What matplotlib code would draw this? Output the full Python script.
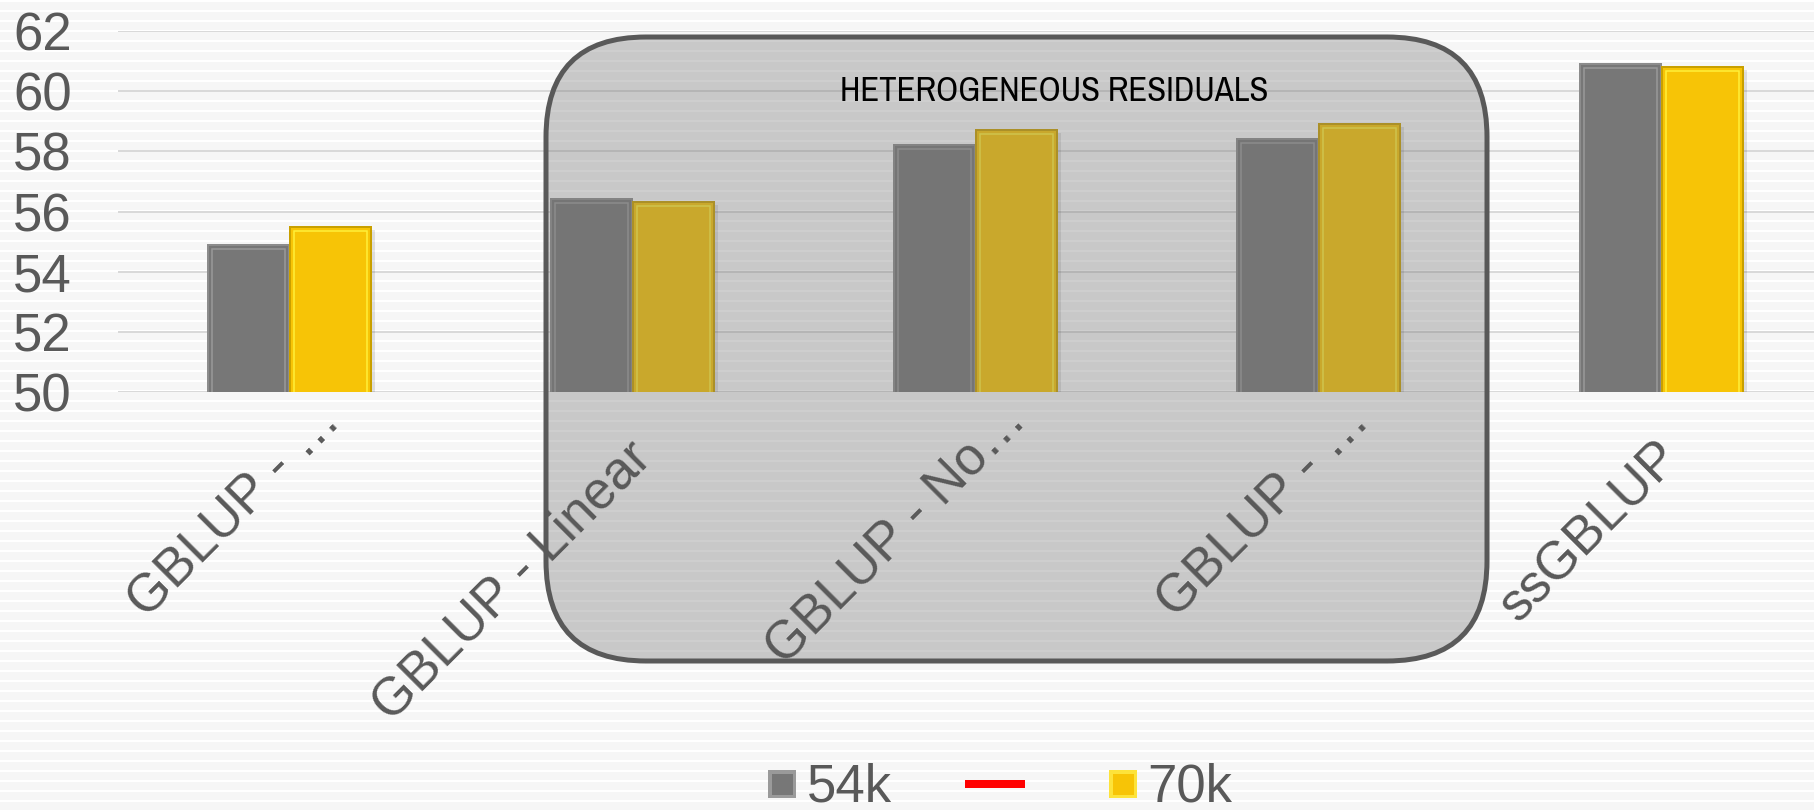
import numpy as np
import matplotlib
matplotlib.use("Agg")
import matplotlib.pyplot as plt
import matplotlib.transforms as mtransforms
from matplotlib import font_manager
from matplotlib.patches import FancyBboxPatch
from matplotlib.lines import Line2D
from matplotlib.legend_handler import HandlerTuple

# ---- data -----------------------------------------------------------------
models = ["GBLUP - …", "GBLUP - Linear", "GBLUP - No…", "GBLUP - …", "ssGBLUP"]
acc_54k = [54.9, 56.4, 58.2, 58.4, 60.9]
acc_70k = [55.5, 56.3, 58.7, 58.9, 60.8]
series_names = ["54k", "", "70k"]
y_ticks = [50, 52, 54, 56, 58, 60, 62]
box_title = "HETEROGENEOUS RESIDUALS"

# ---- style ----------------------------------------------------------------
W, H, DPI = 1814, 810, 100
TXT = "#595959"
GRAY, GRAY_EDGE, GRAY_BEVEL = "#777777", "#8c8c8c", "#9a9a9a"
YEL, YEL_EDGE, YEL_BEVEL = "#f7c406", "#c9a000", "#fff03a"
plt.rcParams["font.family"] = ["Liberation Sans", "DejaVu Sans"]


def px(v):
    """pixels -> points"""
    return v * 72.0 / DPI


def inch(v):
    """pixels -> inches"""
    return v / DPI


def narrow_font():
    """Find a regular-weight condensed sans face, if one is installed."""
    wanted = ("condensed", "semi-condensed", "extra-condensed")
    best = None
    for f in font_manager.fontManager.ttflist:
        w = f.weight if isinstance(f.weight, int) else {"normal": 400, "regular": 400}.get(str(f.weight), 0)
        if f.style != "normal" or w != 400:
            continue
        if str(f.stretch) in wanted or "Narrow" in f.name or "Condensed" in f.fname:
            rank = 0 if "Narrow" in f.name else 1 if "Noto" in f.name else 2
            if best is None or rank < best[0]:
                best = (rank, f.fname)
    return font_manager.FontProperties(fname=best[1]) if best else None


fig = plt.figure(figsize=(W / DPI, H / DPI), dpi=DPI)
fig.patch.set_facecolor("#f7f7f7")

# faint horizontal pinstripes behind everything
rows = np.arange(H)
stripes = np.where((rows % 10) < 2, 255.0, 246.0)[:, None]
bg = fig.add_axes([0, 0, 1, 1], zorder=-10)
bg.imshow(stripes, cmap="gray", vmin=0, vmax=255, aspect="auto",
          interpolation="nearest", extent=[0, 1, 0, 1])
bg.axis("off")

ax = fig.add_axes([118 / W, (H - 392) / H, 1715 / W, (392 - 31) / H])
ax.set_facecolor("none")

x = np.arange(len(models))
bw, off = 0.236, 0.119
shadow = ax.transData + mtransforms.ScaledTranslation(inch(4), -inch(3), fig.dpi_scale_trans)
inset = ax.transData + mtransforms.ScaledTranslation(0, -inch(4), fig.dpi_scale_trans)

for xs, vals, face, edge, bevel in [(x - off, acc_54k, GRAY, GRAY_EDGE, GRAY_BEVEL),
                                     (x + off, acc_70k, YEL, YEL_EDGE, YEL_BEVEL)]:
    ax.bar(xs, vals, bw, color="black", alpha=0.10, linewidth=0,
           transform=shadow, zorder=2)
    ax.bar(xs, vals, bw, color=face, edgecolor=edge, linewidth=px(2), zorder=3)
    ax.bar(xs, vals, bw - 8 / 343, fill=False, edgecolor=bevel,
           linewidth=px(1.5), transform=inset, zorder=4)

ax.set_xlim(-0.5, len(models) - 0.5)
ax.set_ylim(y_ticks[0], y_ticks[-1])
ax.set_yticks(y_ticks)
ax.set_xticks(x, [""] * len(models))
ax.tick_params(axis="both", length=0)
ax.tick_params(axis="y", pad=px(46), labelsize=38, labelcolor=TXT)
ax.yaxis.grid(True, color="#d9d9d9", linewidth=px(2))
ax.set_axisbelow(True)
for s in ax.spines.values():
    s.set_visible(False)

# rotated category labels (shortened names sit further along the slope)
for xi, name in zip(x, models):
    dx, dy = (53, -31) if name.endswith("…") else (21, -68)
    tr = ax.get_xaxis_transform() + mtransforms.ScaledTranslation(
        inch(dx), inch(dy), fig.dpi_scale_trans)
    ax.text(xi, 0, name, transform=tr, rotation=45, rotation_mode="anchor",
            ha="right", va="baseline", fontsize=38, color=TXT, zorder=7,
            clip_on=False)

# rounded highlight box around the heterogeneous-residual models
box = FancyBboxPatch((inch(546), inch(H - 661)), inch(1487 - 546), inch(661 - 37),
                     boxstyle="round,pad=0,rounding_size=1.0",
                     transform=fig.dpi_scale_trans,
                     facecolor=(0.455, 0.455, 0.455, 0.35),
                     edgecolor="#595959", linewidth=px(5), zorder=5)
ax.add_artist(box)
box.set_clip_on(False)

fp = narrow_font()
title = fig.text(1054 / W, (H - 91) / H, box_title, ha="center", va="center",
                 color="black", fontsize=23, fontproperties=fp)
if fp is None:
    title.set_fontsize(20)
title.set_fontsize(23)
# size the caption so that it spans its slot in the box
renderer = fig.canvas.get_renderer()
wpx = title.get_window_extent(renderer).width
title.set_fontsize(23 * 430.0 / wpx)

# legend: two bevelled squares and an unlabeled red line entry
def sq(face, rim):
    outer = Line2D([], [], marker="s", markersize=px(28), linestyle="none",
                   markerfacecolor=rim, markeredgecolor=rim, markeredgewidth=0)
    inner = Line2D([], [], marker="s", markersize=px(21), linestyle="none",
                   markerfacecolor=face, markeredgewidth=0)
    return (outer, inner)

red = Line2D([], [], marker="_", markersize=px(60), markeredgewidth=px(8),
             color="#ff0000", linestyle="none")
handles = [sq(GRAY, GRAY_BEVEL), red, sq(YEL, "#fde33a")]
fig.legend(handles, series_names, loc="center",
           bbox_to_anchor=(1000 / W, (H - 788) / H), ncol=3, frameon=False,
           fontsize=38, labelcolor=TXT, handlelength=0.55, handletextpad=0.2,
           columnspacing=1.67, borderpad=0,
           handler_map={tuple: HandlerTuple(ndivide=1)})

fig.savefig("out.png", dpi=DPI, facecolor=fig.get_facecolor())
